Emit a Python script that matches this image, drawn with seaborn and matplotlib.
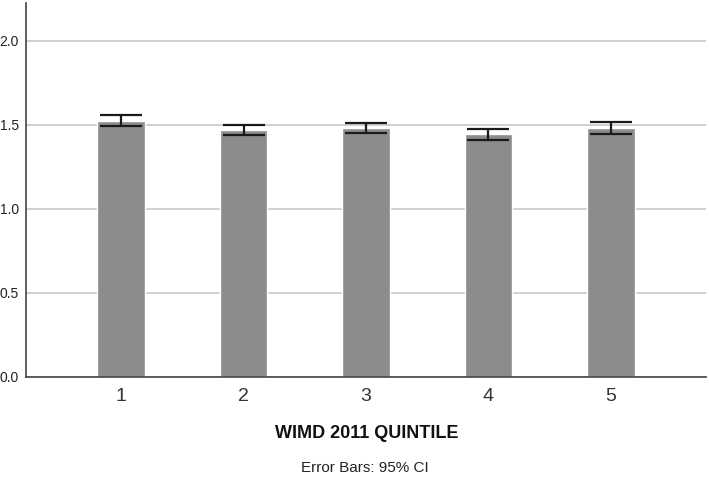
import matplotlib
matplotlib.use("Agg")
import matplotlib.pyplot as plt
import seaborn as sns
import numpy as np
import pandas as pd

quintiles = ["1", "2", "3", "4", "5"]
means = [1.526, 1.468, 1.480, 1.445, 1.480]
ci_low = [1.492, 1.440, 1.450, 1.413, 1.446]
ci_high = [1.561, 1.502, 1.512, 1.478, 1.520]
y_ticks = [0.0, 0.5, 1.0, 1.5, 2.0]

sns.set_style("white")
plt.rcParams["font.family"] = ["Liberation Sans", "DejaVu Sans"]

fig = plt.figure(figsize=(7.09, 4.79), dpi=100)
ax = fig.add_axes([26 / 709, 1 - 377 / 479, 680 / 709, 374 / 479])

df = pd.DataFrame({"q": quintiles, "m": means})
sns.barplot(data=df, x="q", y="m", color="#8c8c8c", saturation=1, width=0.39,
            errorbar=None, ax=ax, zorder=2)

pos = np.arange(len(quintiles))
m = np.array(means)
ax.errorbar(pos, m, yerr=[m - np.array(ci_low), np.array(ci_high) - m],
            fmt="none", ecolor="#1a1a1a", elinewidth=1.6, capsize=15,
            capthick=1.6, zorder=3)

ax.set_ylim(0, 2.226)
ax.set_xlim(-0.776, 4.776)
ax.set_yticks(y_ticks)
ax.set_yticklabels([f"{v:.1f}" for v in y_ticks], fontsize=10, color="#222222")
ax.yaxis.grid(True, color="#c8c8c8", linewidth=1.2, zorder=0)
ax.set_axisbelow(True)
ax.tick_params(axis="x", labelsize=14, colors="#333333", pad=8, length=0)
ax.tick_params(axis="y", pad=5, length=0)
for s in ["top", "right"]:
    ax.spines[s].set_visible(False)
for s in ["left", "bottom"]:
    ax.spines[s].set_color("#444444")
    ax.spines[s].set_linewidth(1.2)

ax.set_xlabel("")
ax.set_ylabel("")
fig.text(367 / 709, 1 - 434 / 479, "WIMD 2011 QUINTILE", ha="center", va="center",
         fontsize=13, fontweight="bold", color="#111111")
fig.text(365 / 709, 1 - 468 / 479, "Error Bars: 95% CI", ha="center", va="center",
         fontsize=11, color="#222222")

fig.savefig("out.png", dpi=100)
